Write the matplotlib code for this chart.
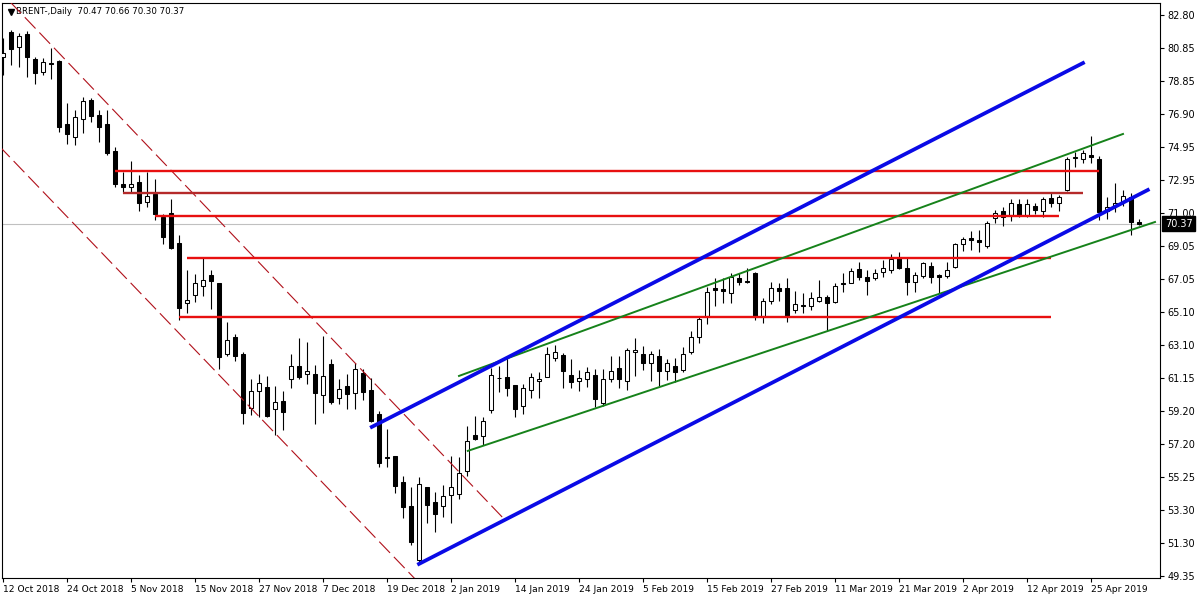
import numpy as np
import matplotlib
matplotlib.use('Agg')
import matplotlib.pyplot as plt
from matplotlib.transforms import blended_transform_factory

# daily OHLC, one entry per bar (12 Oct 2018 -> 2 May 2019)
opens = [80.29, 81.79, 80.89, 81.67, 80.18, 79.40, 79.96, 80.06, 76.30, 75.53,
         76.60, 77.73, 76.84, 76.30, 74.69, 72.72, 72.54, 72.84, 71.65, 72.13,
         70.76, 71.00, 69.20, 65.63, 66.08, 66.64, 67.30, 66.82, 62.58, 63.60,
         62.58, 59.37, 60.38, 60.62, 59.31, 59.78, 61.09, 61.87, 61.39, 61.39,
         60.14, 61.99, 59.96, 60.68, 60.26, 61.45, 60.44, 59.01, 56.46, 56.50,
         54.95, 53.52, 50.30, 54.66, 53.76, 53.52, 54.18, 54.24, 55.61, 57.76,
         57.70, 59.25, 61.18, 61.21, 60.74, 59.49, 60.44, 60.97, 61.21, 62.35,
         62.52, 61.33, 60.97, 61.09, 61.33, 59.66, 61.09, 61.75, 60.97, 62.70,
         62.58, 62.05, 62.47, 61.57, 61.87, 61.63, 62.70, 63.60, 64.85, 66.52,
         66.46, 66.22, 67.12, 66.92, 67.42, 64.85, 65.75, 66.52, 66.52, 65.21,
         65.54, 65.45, 65.75, 65.99, 65.69, 66.85, 66.82, 67.65, 67.18, 67.12,
         67.48, 67.59, 68.31, 67.71, 66.88, 67.24, 67.83, 67.30, 67.24, 67.77,
         69.14, 69.50, 69.38, 69.02, 70.70, 71.11, 70.88, 71.53, 70.88, 71.41,
         71.11, 71.89, 71.59, 72.36, 74.30, 74.21, 74.45, 74.21, 71.11, 71.41,
         71.65, 71.95, 70.47]
highs = [81.43, 81.91, 81.73, 81.85, 80.29, 80.24, 80.83, 80.12, 77.55, 77.13,
         77.91, 77.85, 77.13, 77.13, 74.93, 73.44, 74.09, 73.26, 73.44, 73.02,
         70.93, 71.83, 69.68, 67.59, 67.36, 68.37, 67.59, 66.82, 64.49, 63.78,
         62.70, 61.09, 61.39, 61.27, 60.68, 60.38, 62.58, 63.54, 63.30, 61.93,
         63.66, 62.29, 61.09, 61.39, 62.05, 61.69, 61.15, 59.19, 58.11, 56.50,
         55.31, 54.66, 55.25, 54.66, 54.36, 54.77, 56.50, 56.44, 58.29, 58.89,
         58.83, 61.75, 61.87, 62.35, 60.74, 60.80, 61.45, 61.51, 63.00, 63.12,
         62.64, 62.29, 61.63, 61.81, 61.69, 61.69, 62.47, 62.47, 62.94, 63.54,
         63.06, 62.76, 62.88, 62.29, 62.35, 63.00, 63.96, 64.85, 66.58, 67.12,
         67.12, 67.42, 67.42, 67.71, 67.48, 65.93, 66.88, 66.82, 67.12, 66.34,
         66.22, 66.28, 67.00, 66.10, 66.82, 67.42, 67.71, 68.07, 67.59, 67.65,
         68.19, 68.55, 68.67, 68.31, 67.48, 68.07, 68.07, 67.36, 68.07, 69.20,
         69.56, 69.92, 69.98, 70.52, 71.17, 71.35, 71.83, 71.83, 71.83, 71.59,
         71.95, 72.25, 72.07, 74.33, 74.63, 74.75, 75.58, 74.39, 71.95, 72.78,
         72.36, 72.19, 70.66]
lows = [79.22, 79.82, 79.70, 79.10, 78.69, 79.22, 78.98, 75.82, 75.11, 75.05,
        75.76, 76.42, 75.23, 74.45, 72.54, 72.19, 72.19, 71.11, 71.35, 70.58,
        69.14, 68.85, 64.61, 65.03, 65.69, 66.04, 65.27, 61.69, 62.47, 62.17,
        58.41, 58.95, 58.83, 58.83, 57.76, 58.05, 60.56, 61.09, 60.80, 58.41,
        59.07, 59.60, 59.60, 59.31, 59.31, 59.84, 58.53, 55.85, 55.85, 54.30,
        52.81, 51.19, 50.12, 52.51, 51.97, 52.87, 52.51, 53.94, 55.31, 57.46,
        57.16, 59.07, 60.32, 60.08, 58.83, 59.01, 59.96, 59.96, 61.21, 62.17,
        60.56, 60.56, 60.38, 60.62, 59.43, 59.49, 60.91, 60.56, 60.44, 61.27,
        61.63, 60.97, 60.68, 61.03, 60.91, 61.51, 62.58, 63.24, 64.37, 65.45,
        65.63, 65.63, 66.70, 66.82, 64.61, 64.43, 65.57, 65.75, 64.49, 65.03,
        65.03, 65.21, 65.69, 63.96, 65.63, 66.28, 66.82, 67.00, 66.10, 67.00,
        67.18, 67.42, 67.65, 66.10, 66.28, 67.12, 66.82, 66.22, 67.12, 67.71,
        68.73, 68.79, 68.67, 68.91, 70.40, 70.22, 70.52, 70.76, 70.76, 70.93,
        70.76, 71.35, 71.11, 72.31, 73.74, 73.98, 73.98, 70.58, 70.64, 71.05,
        71.41, 69.68, 70.30]
closes = [80.53, 80.77, 81.55, 80.29, 79.34, 80.00, 79.88, 76.12, 75.70, 76.72,
          77.67, 76.78, 76.12, 74.57, 72.72, 72.54, 72.72, 71.59, 72.01, 70.93,
          69.56, 68.91, 65.33, 65.81, 66.80, 67.00, 66.94, 62.41, 63.42, 62.47,
          59.07, 60.38, 60.86, 58.89, 59.72, 59.13, 61.87, 61.21, 61.57, 60.26,
          61.27, 59.72, 60.50, 60.20, 61.69, 60.32, 58.59, 56.08, 56.40, 54.71,
          53.46, 51.37, 54.83, 53.58, 53.04, 54.12, 54.66, 55.49, 57.40, 57.52,
          58.59, 61.33, 61.15, 60.56, 59.31, 60.56, 61.21, 61.09, 62.58, 62.70,
          61.57, 60.91, 61.15, 61.51, 59.90, 61.09, 61.57, 61.09, 62.82, 62.82,
          62.05, 62.58, 61.57, 62.05, 61.51, 62.58, 63.60, 64.67, 66.28, 66.40,
          66.34, 67.18, 66.88, 66.86, 64.79, 65.75, 66.52, 66.34, 64.79, 65.57,
          65.48, 65.93, 65.99, 65.63, 66.64, 66.79, 67.53, 67.18, 66.94, 67.42,
          67.71, 68.25, 67.71, 66.88, 67.30, 68.01, 67.18, 67.18, 67.59, 69.14,
          69.44, 69.38, 69.26, 70.40, 71.00, 70.76, 71.59, 70.88, 71.53, 71.17,
          71.83, 71.59, 71.95, 74.21, 74.33, 74.57, 74.33, 71.05, 71.35, 71.59,
          72.01, 70.47, 70.37]

date_labels = ['12 Oct 2018', '24 Oct 2018', '5 Nov 2018', '15 Nov 2018',
               '27 Nov 2018', '7 Dec 2018', '19 Dec 2018', '2 Jan 2019',
               '14 Jan 2019', '24 Jan 2019', '5 Feb 2019', '15 Feb 2019',
               '27 Feb 2019', '11 Mar 2019', '21 Mar 2019', '2 Apr 2019',
               '12 Apr 2019', '25 Apr 2019']
date_step = 8

price_ticks = [82.80, 80.85, 78.85, 76.90, 74.95, 72.95, 71.00, 69.05, 67.05,
               65.10, 63.10, 61.15, 59.20, 57.20, 55.25, 53.30, 51.30, 49.35]

last_price = 70.37
header = 'BRENT-,Daily  70.47 70.66 70.30 70.37'

# horizontal levels: price, first bar, last bar
level_prices = [73.50, 72.19, 70.81, 68.31, 64.79]
level_starts = [14, 15, 19, 23, 22]
level_ends = [137, 135, 132, 131, 131]

# trend lines as (bar, price) end points
blue_upper = ([46.1, 135.0], [58.24, 79.94])
blue_lower = ([52.0, 143.1], [50.07, 72.37])
green_upper = ([57.0, 140.0], [61.28, 75.71])
green_lower = ([58.1, 144.0], [56.81, 70.46])
dash_upper = ([0.9, 62.75], [83.58, 52.69])
dash_lower = ([-1.0, 52.0], [75.25, 48.93])


def plot_chart(out='out.png'):

    fig = plt.figure(figsize=(12, 6), dpi=100)
    ax = fig.add_axes([2 / 1200, 22 / 600, 1158 / 1200, 575 / 600])

    o = np.array(opens)
    h = np.array(highs)
    l = np.array(lows)
    c = np.array(closes)
    xs = np.arange(len(o))

    ax.set_xlim(-0.125, 144.625)
    ax.set_ylim(49.23, 83.52)

    # current price line
    ax.axhline(last_price, color='#c0c0c0', lw=0.8, zorder=1)

    # candles
    ax.vlines(xs, l, h, color='black', lw=0.8, zorder=2)
    up = c >= o
    bottoms = np.minimum(o, c)
    heights = np.maximum(np.abs(c - o), 0.01)
    ax.bar(xs[up], heights[up], bottom=bottoms[up], width=0.6,
           facecolor='white', edgecolor='black', linewidth=0.75, zorder=3)
    ax.bar(xs[~up], heights[~up], bottom=bottoms[~up], width=0.6,
           facecolor='black', edgecolor='black', linewidth=0.75, zorder=3)

    # falling channel (dashed)
    for xx, yy in [dash_upper, dash_lower]:
        ax.plot(xx, yy, color='#b0101a', lw=0.8, dashes=(14, 5), zorder=4)

    # horizontal levels
    for i, (p, s, e) in enumerate(zip(level_prices, level_starts, level_ends)):
        col = '#b52a2a' if i == 1 else '#e81010'
        ax.plot([s, e], [p, p], color=col, lw=1.7, zorder=4,
                solid_capstyle='butt')

    # rising channels
    for xx, yy in [green_upper, green_lower]:
        ax.plot(xx, yy, color='#16821a', lw=1.4, zorder=5)
    for xx, yy in [blue_upper, blue_lower]:
        ax.plot(xx, yy, color='#0a0ae6', lw=2.7, zorder=6)

    # axes styling
    for sp in ax.spines.values():
        sp.set_color('black')
        sp.set_linewidth(0.8)

    ax.yaxis.tick_right()
    ax.set_yticks(price_ticks)
    ax.set_yticklabels([f'{p:.2f}' for p in price_ticks])
    ax.tick_params(axis='y', which='major', length=3, width=0.8, pad=2.5,
                   labelsize=7, colors='black')

    ticks = [i * date_step for i in range(len(date_labels))]
    ax.set_xticks(ticks)
    ax.set_xticklabels(date_labels, ha='left')
    ax.tick_params(axis='x', which='major', length=3, width=0.8, pad=2,
                   labelsize=6.6, colors='black')

    # last price marker on the scale
    tr = blended_transform_factory(ax.transAxes, ax.transData)
    ax.annotate('70.37', xy=(1.0, last_price), xycoords=tr,
                xytext=(3.5, 0), textcoords='offset points',
                ha='left', va='center', color='white', fontsize=7,
                bbox=dict(boxstyle='square,pad=0.25', facecolor='black',
                          edgecolor='black'),
                zorder=10, annotation_clip=False)

    # header
    ax.plot([0.0075], [0.985], marker='v', ms=4.5, color='black',
            transform=ax.transAxes, clip_on=False)
    ax.text(0.0125, 0.986, header, transform=ax.transAxes, ha='left',
            va='center', fontsize=6.2, color='black')

    fig.savefig(out, dpi=100)


plot_chart()
